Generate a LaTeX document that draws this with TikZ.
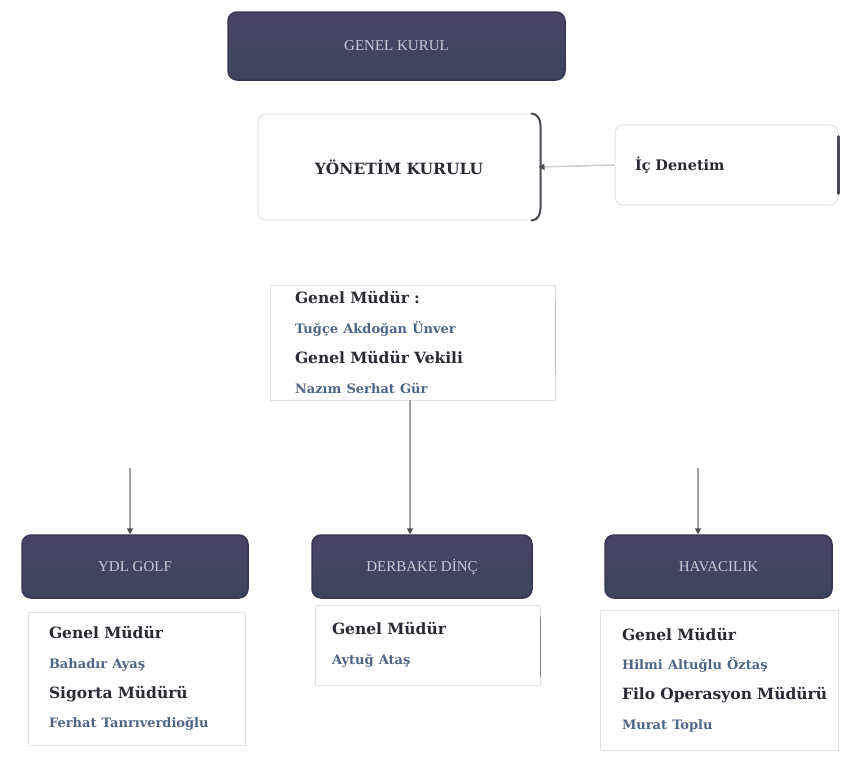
\documentclass[tikz,border=0pt]{standalone}
\usepackage{fontspec}
\setmainfont{Liberation Serif}
\newfontfamily\cardfont{DejaVu Serif}
\usetikzlibrary{arrows.meta}
\definecolor{hdrfill}{HTML}{3D4459}
\definecolor{hdrtop}{HTML}{4A4468}
\definecolor{hdrtext}{HTML}{C9CAD8}
\definecolor{lbl}{HTML}{2A2A33}
\definecolor{nm}{HTML}{4E6584}
\definecolor{boxline}{HTML}{E2E2E8}
\definecolor{edgedark}{HTML}{4A4A52}
\definecolor{conn}{HTML}{A0A0A8}
\tikzset{
  hdrbox/.style={top color=hdrtop, bottom color=hdrfill, draw=hdrtop!80!black, line width=1.5pt,
    rounded corners=9pt, text=hdrtext,
    font=\fontsize{15}{18}\selectfont, inner sep=0pt},
  cardbox/.style={fill=white, draw=boxline, line width=1pt, rounded corners=8pt, inner sep=0pt},
  infobox/.style={fill=white, draw=boxline, line width=0.8pt, inner sep=0pt, align=left,
    font=\cardfont\fontsize{15.5}{29.7}\selectfont},
  darkedge/.style={draw=edgedark, line width=2pt, line cap=round},
  linkline/.style={draw=conn, line width=1.6pt, -{Triangle[length=6pt,width=6pt,color=edgedark]}},
}
\newcommand{\lb}[1]{\textbf{\color{lbl}#1}}
\newcommand{\nmx}[1]{{\fontsize{13}{29.7}\selectfont\bfseries\color{nm}#1}}
\begin{document}
\begin{tikzpicture}[x=1pt,y=-1pt]
\useasboundingbox[fill=white] (0,0) rectangle (860,774);

% top
\node[hdrbox, minimum width=337pt, minimum height=68pt] (top) at (396.5,46) {GENEL KURUL};

% board
\node[cardbox, minimum width=282pt, minimum height=106pt, font=\cardfont\bfseries\fontsize{15.5}{18}\selectfont, text=lbl] (yk) at (399,167) {YÖNETİM KURULU};
\draw[darkedge] ([xshift=-9pt]yk.north east) to[out=0,in=90] ([yshift=-12pt]yk.north east)
  -- ([yshift=12pt]yk.south east) to[out=-90,in=0] ([xshift=-9pt]yk.south east);

% internal audit
\node[cardbox, minimum width=223pt, minimum height=80pt, text width=183pt, align=left,
  font=\cardfont\bfseries\fontsize{14.5}{17}\selectfont, text=lbl] (ic) at (726.5,165) {İç Denetim};
\draw[darkedge, line width=3pt] ([yshift=-12pt]ic.north east) -- ([yshift=12pt]ic.south east);
\draw[linkline, draw=conn!50] (ic.west) -- ([xshift=-2pt]yk.east);

% central info
\node[infobox, minimum width=285pt, minimum height=115pt, text width=235pt] (gm) at (412.5,342.5)
  {\lb{Genel Müdür :}\\ \nmx{Tuğçe Akdoğan Ünver}\\ \lb{Genel Müdür Vekili}\\ \nmx{Nazım Serhat Gür}};
\draw[line width=1.2pt, draw=boxline!60!gray] ([yshift=-15pt]gm.north east) -- ([yshift=25pt]gm.south east);

% headers
\node[hdrbox, minimum width=226pt, minimum height=63pt] (h1) at (135,566.5) {YDL GOLF};
\node[hdrbox, minimum width=220pt, minimum height=63pt] (h2) at (422,566.5) {DERBAKE DİNÇ};
\node[hdrbox, minimum width=227pt, minimum height=63pt] (h3) at (718.5,566.5) {HAVACILIK};

% connectors
\coordinate (c1) at (130,468);
\coordinate (c2) at (410,400);
\coordinate (c3) at (698,468);
\draw[linkline] (c2) -- (h2.north -| c2);
\draw[linkline] (c1) -- (h1.north -| c1);
\draw[linkline] (c3) -- (h3.north -| c3);

% info boxes
\node[infobox, minimum width=217pt, minimum height=133pt, text width=175pt] (b1) at (136.5,678.5)
  {\lb{Genel Müdür}\\ \nmx{Bahadır Ayaş}\\ \lb{Sigorta Müdürü}\\ \nmx{Ferhat Tanrıverdioğlu}};
\node[infobox, minimum width=225pt, minimum height=80pt, text width=191pt] (b2) at (427.5,645)
  {\lb{Genel Müdür}\\ \nmx{Aytuğ Ataş}};
\draw[line width=1.6pt, draw=gray] ([yshift=-12pt]b2.north east) -- ([yshift=8pt]b2.south east);
\node[infobox, minimum width=238pt, minimum height=140pt, text width=222pt] (b3) at (719,680)
  {\hspace*{14pt}\lb{Genel Müdür}\\ \hspace*{14pt}\nmx{Hilmi Altuğlu Öztaş}\\ \hspace*{14pt}\lb{Filo Operasyon Müdürü}\\ \hspace*{14pt}\nmx{Murat Toplu}};
\end{tikzpicture}
\end{document}
